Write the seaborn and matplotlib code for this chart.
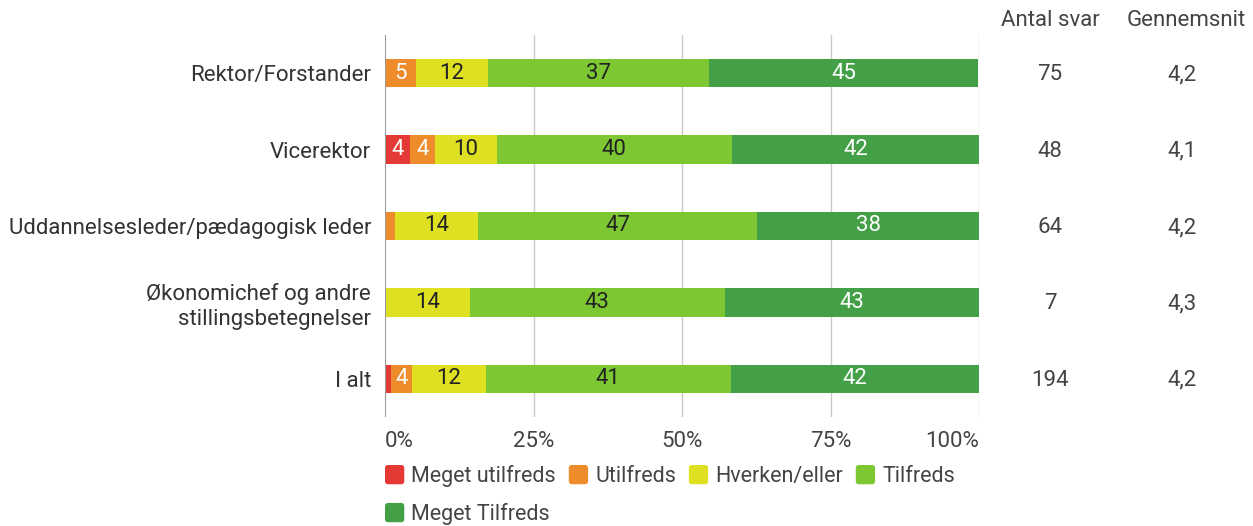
import matplotlib
matplotlib.use("Agg")
import matplotlib.pyplot as plt
import seaborn as sns
import pandas as pd
import numpy as np
from matplotlib.patches import Patch, FancyBboxPatch
from matplotlib.legend_handler import HandlerPatch

categories = ["Rektor/Forstander", "Vicerektor", "Uddannelsesleder/pædagogisk leder",
              "Økonomichef og andre\nstillingsbetegnelser", "I alt"]
series = ["Meget utilfreds", "Utilfreds", "Hverken/eller", "Tilfreds", "Meget Tilfreds"]
meget_utilfreds = [0.0, 4.2, 0.0, 0.0, 1.0]
utilfreds = [5.3, 4.2, 1.6, 0.0, 3.6]
hverken = [12.0, 10.4, 14.1, 14.3, 12.4]
tilfreds = [37.3, 39.6, 46.9, 42.9, 41.2]
meget_tilfreds = [45.3, 41.7, 37.5, 42.9, 41.8]
antal_svar = ["75", "48", "64", "7", "194"]
gennemsnit = ["4,2", "4,1", "4,2", "4,3", "4,2"]
xticks = [0, 25, 50, 75, 100]
xticklabels = ["0%", "25%", "50%", "75%", "100%"]

colors = ["#E53935", "#EE8B2B", "#DFE022", "#7DC832", "#43A047"]
text_colors = ["white", "white", "#222222", "#222222", "white"]


class RoundSquare(HandlerPatch):
    def create_artists(self, legend, orig_handle, xdescent, ydescent, width, height, fontsize, trans):
        s = min(width, height)
        p = FancyBboxPatch((-xdescent, -ydescent + (height - s) / 2), s, s,
                           boxstyle=f"round,pad=0,rounding_size={s*0.15}",
                           facecolor=orig_handle.get_facecolor(), edgecolor="none",
                           transform=trans)
        return [p]


sns.set_theme(style="white")
plt.rcParams["font.family"] = ["Roboto", "DejaVu Sans"]

FS = 16
LFS = 15.5
fig = plt.figure(figsize=(12.53, 5.26), dpi=100)
ax = fig.add_axes([385/1253, 1-417/526, (979-385)/1253, (417-35)/526])

vals = np.array([meget_utilfreds, utilfreds, hverken, tilfreds, meget_tilfreds])
cum = np.cumsum(vals, axis=0)

for i in range(len(series)-1, -1, -1):
    df = pd.DataFrame({"cat": categories, "val": cum[i]})
    sns.barplot(data=df, x="val", y="cat", orient="h", color=colors[i],
                saturation=1, width=0.37, ax=ax, linewidth=0)

for i in range(len(series)):
    for j in range(len(categories)):
        v = vals[i, j]
        if v > 3:
            center = cum[i, j] - v/2
            ax.text(center, j, f"{v:.0f}", ha="center", va="center",
                    color=text_colors[i], fontsize=FS)

ax.set_xlim(0, 100)
ax.set_ylim(4.5, -0.5)
ax.set_xticks(xticks)
ax.set_xticklabels(xticklabels, fontsize=FS, color="#444444")
tl = ax.get_xticklabels()
tl[0].set_horizontalalignment("left")
tl[-1].set_horizontalalignment("right")
ax.set_xlabel("")
ax.set_ylabel("")
ax.tick_params(axis="y", labelsize=FS, colors="#333333", length=0, pad=10)
ax.tick_params(axis="x", length=0, pad=10)
for x in xticks[1:]:
    ax.axvline(x, color="#C8C8C8", lw=1, zorder=0)
ax.axvline(0, color="#999999", lw=1.5, zorder=3)
for s in ax.spines.values():
    s.set_visible(False)
ax.set_axisbelow(True)

fig.text(1050/1253, 1-20/526, "Antal svar", ha="center", va="center", fontsize=FS, color="#444444")
fig.text(1186/1253, 1-20/526, "Gennemsnit", ha="center", va="center", fontsize=FS, color="#444444")
for j in range(len(categories)):
    ydisp = ax.transData.transform((0, j))[1]
    yf = (ydisp - 1.5) / fig.bbox.height
    fig.text(1050/1253, yf, antal_svar[j], ha="center", va="center", fontsize=FS, color="#444444")
    fig.text(1182/1253, yf, gennemsnit[j], ha="center", va="center", fontsize=FS, color="#444444")

handles = [Patch(facecolor=c, edgecolor=c, label=s) for c, s in zip(colors, series)]
order = [0, 4, 1, 2, 3]
leg = fig.legend(handles=[handles[k] for k in order], loc="upper left",
                 bbox_to_anchor=(385/1253, 1-465/526),
                 ncol=4, frameon=False, fontsize=LFS, handlelength=1.0, handleheight=1.0,
                 handletextpad=0.22, columnspacing=0.6, labelspacing=0.74, borderaxespad=0,
                 borderpad=0, handler_map={Patch: RoundSquare()})
for t in leg.get_texts():
    t.set_color("#444444")

fig.savefig("out.png", dpi=100)
